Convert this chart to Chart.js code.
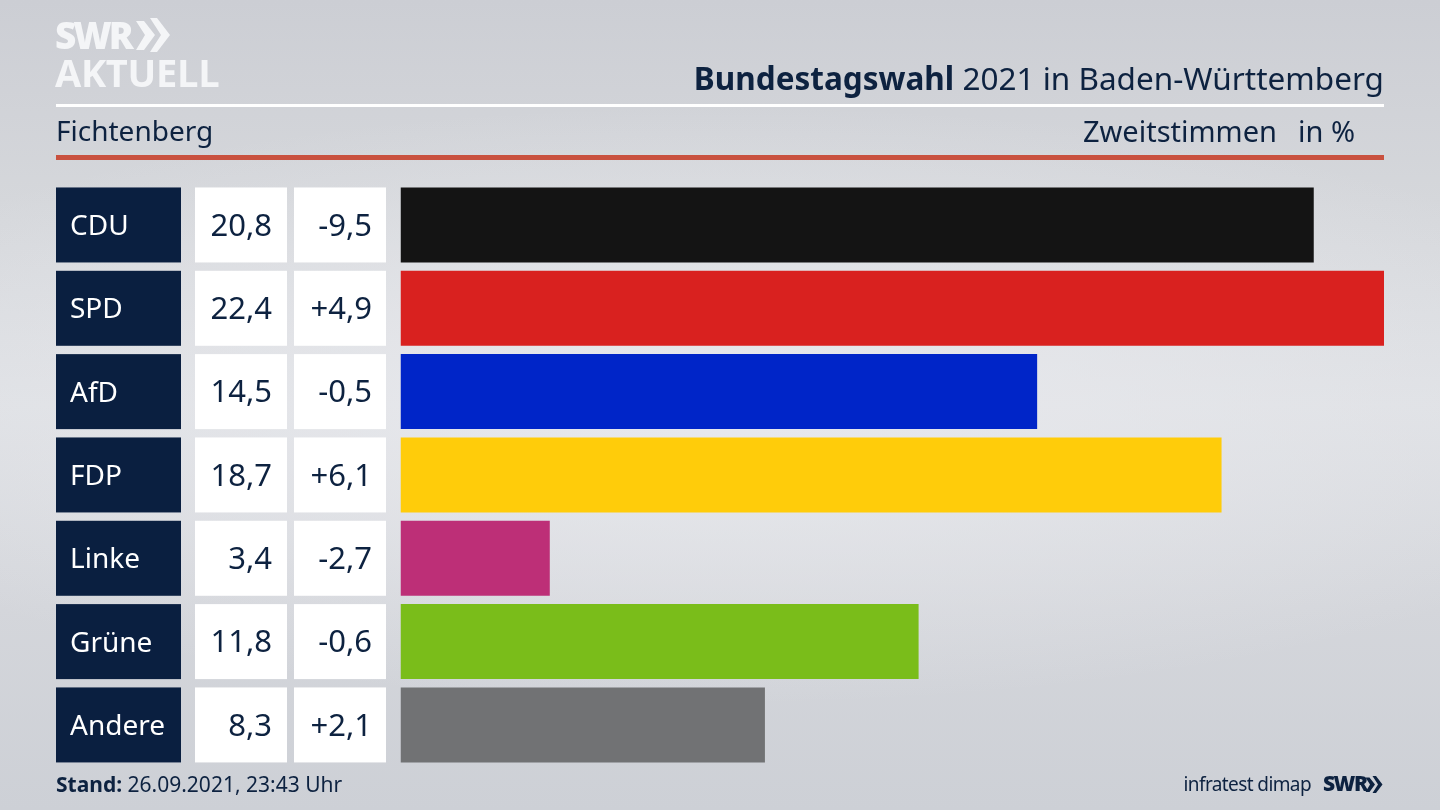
<!DOCTYPE html>
<html lang="de">
<head>
<meta charset="utf-8">
<title>Bundestagswahl 2021 in Baden-Württemberg</title>
<script src="https://cdn.jsdelivr.net/npm/chart.js@4"></script>
<style>
  html, body { margin: 0; padding: 0; }
  body {
    width: 1440px; height: 810px; overflow: hidden; position: relative;
    background: radial-gradient(ellipse 1000px 300px at 50% 50%, #e8e9ed 0%, rgba(232,233,237,0) 100%),
                linear-gradient(180deg, #ccced4 0%, #d5d7db 25%, #dee0e4 50%, #d4d6db 75%, #cdd0d6 100%);
    font-family: "Noto Sans", sans-serif; color: #0d2240;
  }
  canvas { position: absolute; left: 0; top: 0; }
  .t { position: absolute; white-space: nowrap; line-height: 1; }
  .rule { position: absolute; left: 56px; width: 1328px; }
  .logo { color: #f4f5f7; font-weight: 700; font-family: "Open Sans", sans-serif; }
</style>
</head>
<body>
<canvas id="chart" width="1440" height="810"></canvas>

<div class="t logo" style="left:55px;top:16px;font-size:37px;letter-spacing:-3px;font-weight:800">SWR</div>
<svg style="position:absolute;left:136px;top:18px" width="36" height="36" viewBox="0 0 36 36">
  <polygon points="0,3 8,3 19,17 8,32 0,32 9,17" fill="#f4f5f7"/>
  <polygon points="14,0 21,0 34,17 21,34 14,34 25,17" fill="#f4f5f7"/>
</svg>
<div class="t logo" style="left:55px;top:53px;font-size:38px;letter-spacing:-.3px;font-weight:700">AKTUELL</div>

<div class="t" style="right:56px;top:62px;font-size:31.5px"><b>Bundestagswahl</b> 2021 in Baden-Württemberg</div>
<div class="rule" style="top:104px;height:3px;background:#fff"></div>
<div class="t" style="left:56px;top:116px;font-size:28px">Fichtenberg</div>
<div class="t" style="right:163px;top:116px;font-size:29px">Zweitstimmen</div>
<div class="t" style="right:85px;top:116px;font-size:29px">in %</div>
<div class="rule" style="top:155px;height:5px;background:#c9513f"></div>

<div class="t" style="left:56px;top:774px;font-size:21px"><b>Stand:</b> 26.09.2021, 23:43 Uhr</div>
<div class="t" style="right:129px;top:775px;font-size:19px;letter-spacing:-.6px">infratest dimap</div>
<div class="t" style="left:1323px;top:773px;font-size:21px;font-weight:800;letter-spacing:-1.5px;font-family:'Open Sans',sans-serif">SWR</div>
<svg style="position:absolute;left:1365px;top:776px" width="19" height="17" viewBox="0 0 36 34">
  <polygon points="0,3 8,3 19,17 8,32 0,32 9,17" fill="#0d2240"/>
  <polygon points="14,0 21,0 34,17 21,34 14,34 25,17" fill="#0d2240"/>
</svg>

<script>
const PARTIES = ['CDU', 'SPD', 'AfD', 'FDP', 'Linke', 'Grüne', 'Andere'];
const SHARES = [20.8, 22.4, 14.5, 18.7, 3.4, 11.8, 8.3];
const CHANGES = [-9.5, 4.9, -0.5, 6.1, -2.7, -0.6, 2.1];
const COLORS = ['#141414', '#d9211f', '#0025c8', '#ffcc0a', '#bd2f77', '#7abd1a', '#717274'];

const NAVY = '#0a1f40';

function fmt(v){ return Math.abs(v).toFixed(1).replace('.', ','); }
function fmtChange(v){ return (v < 0 ? '-' : '+') + fmt(v); }

// party name + the two white number cells, left of the bars, one row per category
const tablePlugin = {
  id: 'table',
  afterDraw(chart){
    const ctx = chart.ctx, y = chart.scales.y;
    const h = chart.getDatasetMeta(0).data[0].height;
    ctx.save();
    ctx.textBaseline = 'middle';
    PARTIES.forEach((p, i) => {
      const c = y.getPixelForValue(i), top = c - h / 2;
      ctx.fillStyle = NAVY;
      ctx.fillRect(56, top, 125, h);
      ctx.fillStyle = '#fff';
      ctx.fillRect(195, top, 92, h);
      ctx.fillRect(294, top, 92, h);
      ctx.fillStyle = '#fff';
      ctx.textAlign = 'left';
      ctx.font = '28px "Noto Sans", sans-serif';
      ctx.fillText(p, 70, c + 2);
      ctx.fillStyle = '#0d2240';
      ctx.textAlign = 'right';
      ctx.font = '31px "Noto Sans", sans-serif';
      ctx.fillText(fmt(SHARES[i]), 272, c + 2);
      ctx.fillText(fmtChange(CHANGES[i]), 372, c + 2);
    });
    ctx.restore();
  }
};

new Chart(document.getElementById('chart'), {
  type: 'bar',
  data: {
    labels: PARTIES,
    datasets: [{ data: SHARES, backgroundColor: COLORS, barPercentage: 1, categoryPercentage: 0.9 }]
  },
  options: {
    indexAxis: 'y',
    responsive: false,
    animation: false,
    devicePixelRatio: 1,
    layout: { padding: { left: 400.5, right: 56, top: 183.3, bottom: 43.4 } },
    plugins: { legend: { display: false }, tooltip: { enabled: false } },
    scales: {
      x: { display: false, min: 0, max: 22.4 },
      y: { display: false }
    }
  },
  plugins: [tablePlugin]
});
</script>
</body>
</html>
